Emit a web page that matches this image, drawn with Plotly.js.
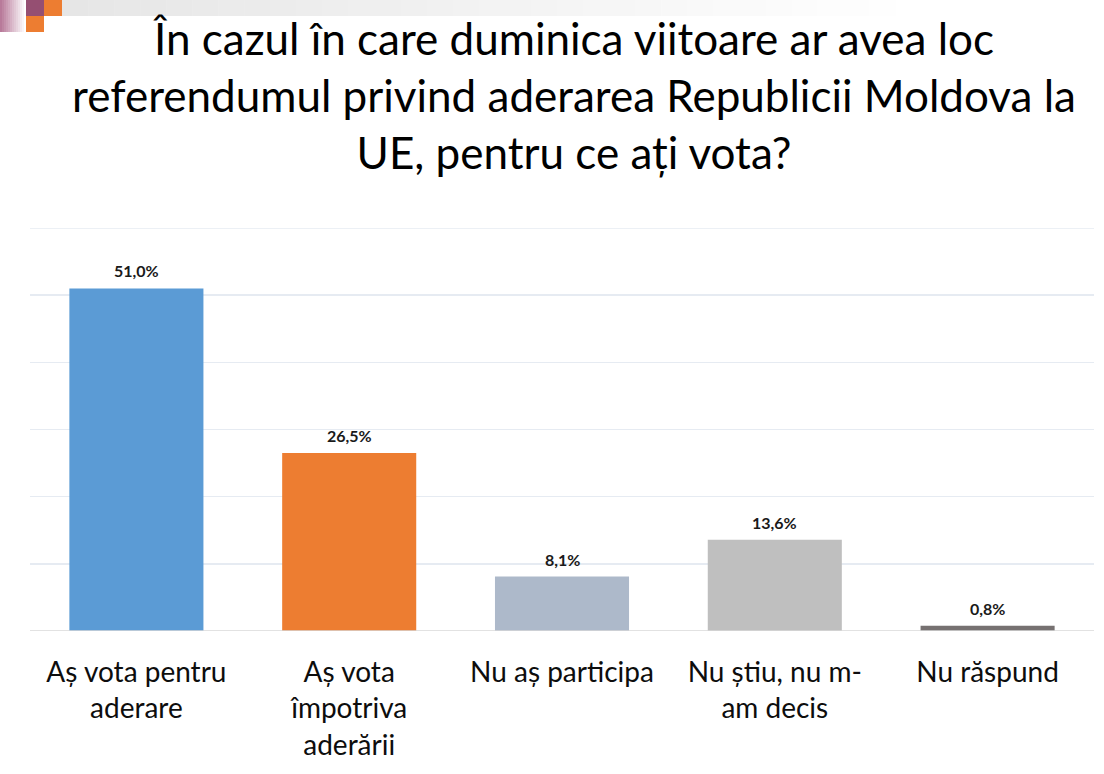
<!DOCTYPE html>
<html>
<head>
<meta charset="utf-8">
<script src="https://cdn.plot.ly/plotly-3.0.1.min.js"></script>
<style>
  html, body { margin: 0; padding: 0; background: #fff; }
  #chart { width: 1104px; height: 774px; }
</style>
</head>
<body>
<div id="chart"></div>
<script>
// answer options and shares (%)
const categories = [
  'Aș vota pentru<br>aderare',
  'Aș vota<br>împotriva<br>aderării',
  'Nu aș participa',
  'Nu știu, nu m-<br>am decis',
  'Nu răspund'
];
const values = [51.0, 26.5, 8.1, 13.6, 0.8];
const barColors = ['#5B9BD5', '#ED7D31', '#ADB9CA', '#BFBFBF', '#767171'];

const W = 1104, H = 774;
const margin = { l: 30, r: 10, t: 228, b: 143 };

// pixel -> paper helpers for the slide decoration
const px = x => (x - margin.l) / (W - margin.l - margin.r);
const py = y => (H - margin.b - y) / (H - margin.t - margin.b);

function rect(x0, y0, x1, y1, color) {
  return {
    type: 'rect', xref: 'paper', yref: 'paper', layer: 'below',
    x0: px(x0), x1: px(x1), y0: py(y1), y1: py(y0),
    fillcolor: color, line: { width: 0 }
  };
}

const shapes = [];
// left pink fade
const pinkSteps = 13;
for (let i = 0; i < pinkSteps; i++) {
  const t = i / (pinkSteps - 1);
  const r = Math.round(184 + (255 - 184) * t);
  const g = Math.round(122 + (255 - 122) * t);
  const b = Math.round(154 + (255 - 154) * t);
  shapes.push(rect(i * 2, 0, i * 2 + 2, 32, `rgb(${r},${g},${b})`));
}
// top grey band fading to white
const bandSteps = 40;
for (let i = 0; i < bandSteps; i++) {
  const x0 = 62 + i * (1042 / bandSteps);
  const t = Math.min(1, i / (bandSteps * 0.8));
  const c = Math.round(230 + (255 - 230) * t);
  shapes.push(rect(x0, 0, x0 + 1042 / bandSteps + 0.5, 16, `rgb(${c},${c},${c})`));
}
shapes.push(rect(26, 0, 44, 16, '#954F72'));
shapes.push(rect(44, 0, 62, 16, '#ED7D31'));
shapes.push(rect(26, 16, 44, 32, '#ED7D31'));
// top gridline (edge of range) and baseline
shapes.push({
  type: 'line', xref: 'paper', yref: 'y', x0: 0, x1: 1, y0: 60, y1: 60, layer: 'below',
  line: { color: '#e6ebf2', width: 1.5 }
});
shapes.push({
  type: 'line', xref: 'paper', yref: 'y', x0: 0, x1: 1, y0: 0, y1: 0,
  line: { color: '#d9d9d9', width: 1.5 }
});

const trace = {
  type: 'bar',
  x: categories,
  y: values,
  marker: { color: barColors },
  hoverinfo: 'skip'
};

// value labels above the bars
const annotations = categories.map((c, i) => ({
  x: c,
  y: values[i],
  xref: 'x',
  yref: 'y',
  text: values[i].toFixed(1).replace('.', ',') + '%',
  showarrow: false,
  yanchor: 'bottom',
  yshift: 6,
  font: { family: 'Lato, sans-serif', size: 16, color: '#1a1a1a', weight: 'bold' }
}));

const layout = {
  width: W,
  height: H,
  margin: margin,
  separators: ',.',
  paper_bgcolor: '#ffffff',
  plot_bgcolor: '#ffffff',
  bargap: 0.37,
  showlegend: false,
  font: { family: 'Lato, sans-serif', color: '#0d0d0d' },
  title: {
    text: 'În cazul în care duminica viitoare ar avea loc<br>referendumul privind aderarea Republicii Moldova la<br>UE, pentru ce ați vota?',
    font: { family: 'Lato, sans-serif', size: 44, color: '#000000', weight: 400 },
    xref: 'container', x: 574 / W, xanchor: 'center',
    yref: 'container', y: 1 - 55 / H, yanchor: 'middle'
  },
  xaxis: {
    type: 'category',
    showgrid: false,
    showline: false,
    ticks: '',
    tickfont: { family: 'Lato, sans-serif', size: 28, color: '#0d0d0d' },
    ticklabelstandoff: 22
  },
  yaxis: {
    range: [0, 60],
    dtick: 10,
    showticklabels: false,
    showgrid: true,
    gridcolor: '#e6ebf2',
    gridwidth: 1.5,
    zeroline: false,
    showline: false,
    ticks: ''
  },
  annotations: annotations,
  shapes: shapes
};

Plotly.newPlot('chart', [trace], layout, { displayModeBar: false, staticPlot: true });
</script>
</body>
</html>
